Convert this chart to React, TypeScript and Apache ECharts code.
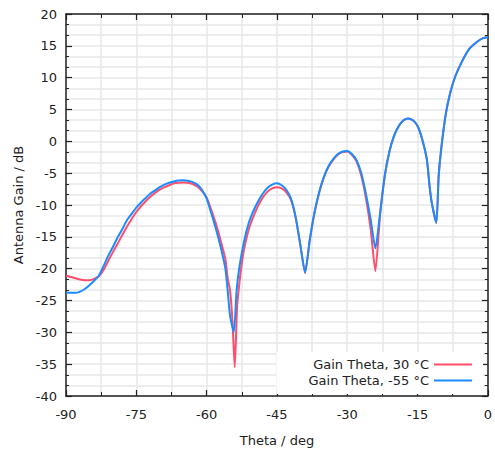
import React, { useEffect, useRef } from "react";
import * as echarts from "echarts";

const theta30 = [-90, -89, -88, -87, -86, -85, -84, -83, -82, -81, -80, -79, -78, -77, -76, -75, -74, -73, -72, -71, -70, -69, -68, -67, -66, -65, -64, -63, -62, -61, -60, -59, -58, -57, -56, -55.5, -55, -54.5, -54, -53.5, -53, -52.5, -52, -51, -50, -49, -48, -47, -46, -45, -44, -43, -42, -41, -40, -39, -38, -37, -36, -35, -34, -33, -32, -31, -30, -29, -28, -27, -26, -25, -24, -23, -22, -21, -20, -19, -18, -17, -16, -15, -14, -13, -12.5, -12, -11, -10.5, -10, -9, -8, -7, -6, -5, -4, -3, -2, -1, 0];
const gain30 = [-21.1, -21.3, -21.5, -21.7, -21.8, -21.8, -21.6, -21.2, -20.2, -18.8, -17.4, -16.1, -14.7, -13.4, -12.2, -11.1, -10.2, -9.4, -8.7, -8.1, -7.6, -7.2, -6.9, -6.6, -6.5, -6.45, -6.5, -6.7, -7.1, -7.8, -8.8, -10.8, -13.0, -15.6, -18.5, -21.5, -23.4, -28.1, -35.5, -26.0, -22.2, -19.2, -16.9, -13.8, -11.8, -10.1, -8.8, -7.9, -7.4, -7.2, -7.4, -8.0, -9.2, -12.0, -16.3, -20.7, -15.6, -11.3, -8.1, -5.7, -4.0, -2.9, -2.1, -1.7, -1.6, -2.1, -3.2, -5.4, -9.0, -13.8, -20.4, -11.6, -5.5, -1.6, 0.9, 2.4, 3.3, 3.6, 3.3, 2.4, 0.3, -2.9, -6.6, -9.5, -12.8, -5.5, -1.5, 4.2, 7.7, 10.1, 11.8, 13.3, 14.5, 15.2, 15.8, 16.2, 16.4];

const thetaM55 = [-90, -89, -88, -87, -86, -85, -84, -83, -82, -81, -80, -79, -78, -77, -76, -75, -74, -73, -72, -71, -70, -69, -68, -67, -66, -65, -64, -63, -62, -61, -60, -59, -58, -57, -56, -55.5, -55, -54.2, -53.6, -53, -52, -51, -50, -49, -48, -47, -46, -45, -44, -43, -42, -41, -40, -39, -38, -37, -36, -35, -34, -33, -32, -31, -30, -29, -28, -27, -26, -25, -24, -23, -22, -21, -20, -19, -18, -17, -16, -15, -14, -13, -12.5, -12, -11, -10.5, -10, -9, -8, -7, -6, -5, -4, -3, -2, -1, 0];
const gainM55 = [-23.8, -23.8, -23.8, -23.6, -23.2, -22.6, -21.9, -21.1, -19.6, -18.0, -16.6, -15.1, -13.8, -12.4, -11.4, -10.4, -9.6, -8.9, -8.2, -7.7, -7.2, -6.8, -6.5, -6.3, -6.15, -6.1, -6.2, -6.4, -6.8, -7.6, -9.0, -11.3, -13.8, -16.6, -20.0, -23.5, -27.4, -30.0, -23.4, -19.7, -15.7, -12.8, -10.9, -9.4, -8.2, -7.3, -6.8, -6.6, -6.9, -7.6, -9.0, -11.9, -16.3, -20.6, -15.5, -11.2, -8.0, -5.6, -3.9, -2.8, -2.0, -1.6, -1.5, -2.0, -3.0, -5.0, -8.3, -12.3, -16.8, -11.3, -5.4, -1.6, 0.9, 2.4, 3.3, 3.6, 3.3, 2.4, 0.3, -2.9, -6.6, -9.5, -12.8, -5.5, -1.5, 4.2, 7.7, 10.1, 11.8, 13.3, 14.5, 15.2, 15.8, 16.2, 16.4];

const seriesNames = ["Gain Theta, 30 °C", "Gain Theta, -55 °C"];
const xTicks = { min: -90, max: 0, step: 15 };
const yTicks = { min: -40, max: 20, step: 5 };

const FONT = "DejaVu Sans";
const FS = 13;
const gridColor = "#e4e7e9";
const axisColor = "#222";

export default function App() {
  const ref = useRef<HTMLDivElement>(null);
  useEffect(() => {
    if (!ref.current) return;
    const chart = echarts.init(ref.current, undefined, { renderer: "svg" });
    const pairs = (xs: number[], ys: number[]) => xs.map((x, i) => [x, ys[i]]);
    const splitStyle = { show: true, lineStyle: { color: gridColor, width: 1.5 } };
    const baseX = {
      type: "value",
      min: xTicks.min,
      max: xTicks.max,
      interval: xTicks.step,
      axisLine: { show: true, onZero: false, lineStyle: { color: axisColor, width: 1.5 } },
      axisTick: { show: true, inside: true, length: 6, lineStyle: { color: axisColor, width: 1.2 } },
      minorTick: { show: true, splitNumber: 2, length: 4, lineStyle: { color: axisColor, width: 1 } },
    };
    const baseY = {
      type: "value",
      min: yTicks.min,
      max: yTicks.max,
      interval: yTicks.step,
      axisLine: { show: true, onZero: false, lineStyle: { color: axisColor, width: 1.5 } },
      axisTick: { show: true, inside: true, length: 6, lineStyle: { color: axisColor, width: 1.2 } },
      minorTick: { show: true, splitNumber: 3, length: 3, lineStyle: { color: axisColor, width: 1 } },
    };
    chart.setOption({
      animation: false,
      backgroundColor: "#fff",
      textStyle: { fontFamily: FONT },
      grid: { left: 66, right: 7, top: 14, bottom: 59, containLabel: false },
      legend: {
        data: seriesNames,
        orient: "vertical",
        right: 12,
        bottom: 61,
        align: "right",
        icon: "rect",
        itemWidth: 38,
        itemHeight: 2,
        itemGap: 3,
        padding: [6, 11, 7, 32],
        backgroundColor: "#fff",
        textStyle: { fontFamily: FONT, fontSize: FS, color: "#222" },
      },
      xAxis: [
        {
          ...baseX,
          position: "bottom",
          name: "Theta / deg",
          nameLocation: "middle",
          nameGap: 38,
          nameTextStyle: { fontFamily: FONT, fontSize: FS, color: "#222" },
          axisLabel: { show: true, margin: 12, fontFamily: FONT, fontSize: FS, color: "#222" },
          splitLine: splitStyle,
          minorSplitLine: splitStyle,
        },
        {
          ...baseX,
          position: "top",
          axisLabel: { show: false },
          splitLine: { show: false },
        },
      ],
      yAxis: [
        {
          ...baseY,
          position: "left",
          name: "Antenna Gain / dB",
          nameLocation: "middle",
          nameGap: 41,
          nameTextStyle: { fontFamily: FONT, fontSize: FS, color: "#222" },
          axisLabel: { show: true, margin: 9, fontFamily: FONT, fontSize: FS, color: "#222" },
          splitLine: splitStyle,
          minorSplitLine: splitStyle,
        },
        {
          ...baseY,
          position: "right",
          axisLabel: { show: false },
          splitLine: { show: false },
        },
      ],
      series: [
        {
          name: seriesNames[0],
          type: "line",
          data: pairs(theta30, gain30),
          showSymbol: false,
          symbol: "none",
          smooth: 0.2,
          lineStyle: { color: "#ff4d6a", width: 2 },
          itemStyle: { color: "#ff4d6a" },
          z: 3,
        },
        {
          name: seriesNames[1],
          type: "line",
          data: pairs(thetaM55, gainM55),
          showSymbol: false,
          symbol: "none",
          smooth: 0.2,
          lineStyle: { color: "#1a8cff", width: 2 },
          itemStyle: { color: "#1a8cff" },
          z: 4,
        },
      ],
    });
    return () => chart.dispose();
  }, []);
  return (
    <div
      ref={ref}
      style={{ position: "absolute", left: 0, top: 0, width: 495, height: 455 }}
    />
  );
}
